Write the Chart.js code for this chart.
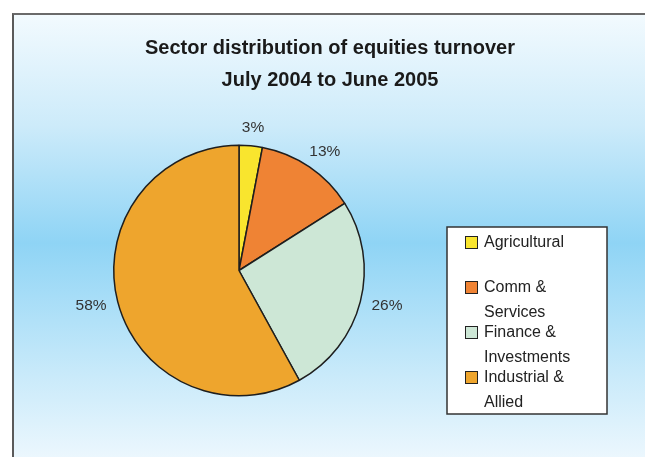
<!DOCTYPE html>
<html>
<head>
<meta charset="utf-8">
<script src="https://cdn.jsdelivr.net/npm/chart.js@4/dist/chart.umd.min.js"></script>
<style>
  html, body { margin: 0; padding: 0; background: #fff; overflow: hidden; }
  #wrap { position: relative; width: 645px; height: 457px; }
  #frame {
    position: absolute; left: 12px; top: 13px; width: 640px; height: 470px;
    border-left: 2px solid #5a5a5a; border-top: 2px solid #6a6a6a;
    background: linear-gradient(to bottom, #f2fafe 0px, #cdebfa 110px, #8fd4f5 228px, #c9eafa 360px, #f1f9fe 456px);
  }
  #chart { position: absolute; left: 0; top: 0; }
</style>
</head>
<body>
<div id="wrap">
  <div id="frame"></div>
  <canvas id="chart" width="645" height="457"></canvas>
</div>
<script>
const titleLines = ["Sector distribution of equities turnover", "July 2004 to June 2005"]
const categories = ["Agricultural", "Comm & Services", "Finance & Investments", "Industrial & Allied"]
const shares = [3, 13, 26, 58]
const sliceColors = ["#f9e52e", "#ef8334", "#cde7d6", "#eea52d"]

const fontFamily = '"Liberation Sans", Arial, Helvetica, sans-serif'

// wrap legend text into lines that fit a max width
function wrapText(ctx, text, maxWidth) {
  const words = text.split(" ")
  const lines = []
  let line = ""
  words.forEach((w) => {
    const test = line ? line + " " + w : w
    if (ctx.measureText(test).width > maxWidth && line) {
      lines.push(line)
      line = w
    } else {
      line = test
    }
  })
  if (line) lines.push(line)
  return lines
}

const extras = {
  id: "extras",
  afterDraw(chart) {
    const ctx = chart.ctx
    ctx.save()

    // title
    ctx.fillStyle = "#1a1a1a"
    ctx.font = "bold 20px " + fontFamily
    ctx.textAlign = "center"
    ctx.textBaseline = "middle"
    ctx.fillText(titleLines[0], 330, 48)
    ctx.fillText(titleLines[1], 330, 80)

    // percentage labels outside the slices
    const meta = chart.getDatasetMeta(0)
    ctx.font = "15.5px " + fontFamily
    ctx.fillStyle = "#333"
    meta.data.forEach((arc, i) => {
      const p = arc.getProps(["x", "y", "startAngle", "endAngle", "outerRadius"], true)
      const mid = (p.startAngle + p.endAngle) / 2
      const txt = shares[i] + "%"
      const w = ctx.measureText(txt).width
      const h = 12
      const r = p.outerRadius + 12
      const cx = p.x + Math.cos(mid) * (r + w / 2)
      const cy = p.y + Math.sin(mid) * (r + h / 2)
      ctx.fillText(txt, cx, cy)
    })

    // legend box
    const box = { left: 447, top: 227, right: 607, bottom: 414 }
    ctx.fillStyle = "#fff"
    ctx.fillRect(box.left, box.top, box.right - box.left, box.bottom - box.top)
    ctx.strokeStyle = "#333"
    ctx.lineWidth = 1.5
    ctx.strokeRect(box.left, box.top, box.right - box.left, box.bottom - box.top)

    ctx.font = "16px " + fontFamily
    ctx.textAlign = "left"
    categories.forEach((name, i) => {
      const y = box.top + 16 + i * 45
      ctx.fillStyle = sliceColors[i]
      ctx.fillRect(465.5, y - 6.5, 12, 12)
      ctx.strokeStyle = "#222"
      ctx.lineWidth = 1
      ctx.strokeRect(465.5, y - 6.5, 12, 12)
      ctx.fillStyle = "#222"
      const lines = wrapText(ctx, name, 100)
      lines.forEach((ln, j) => ctx.fillText(ln, 484, y + j * 24.5))
    })

    ctx.restore()
  },
}

new Chart(document.getElementById("chart"), {
  type: "pie",
  data: {
    labels: categories,
    datasets: [
      {
        data: shares,
        backgroundColor: sliceColors,
        borderColor: "#1e1e1e",
        borderWidth: 1.5,
      },
    ],
  },
  options: {
    responsive: false,
    animation: false,
    devicePixelRatio: 1,
    layout: { padding: { left: 113, top: 144, right: 280, bottom: 60 } },
    plugins: {
      legend: { display: false },
      title: { display: false },
      tooltip: { enabled: false },
    },
  },
  plugins: [extras],
})
</script>
</body>
</html>
